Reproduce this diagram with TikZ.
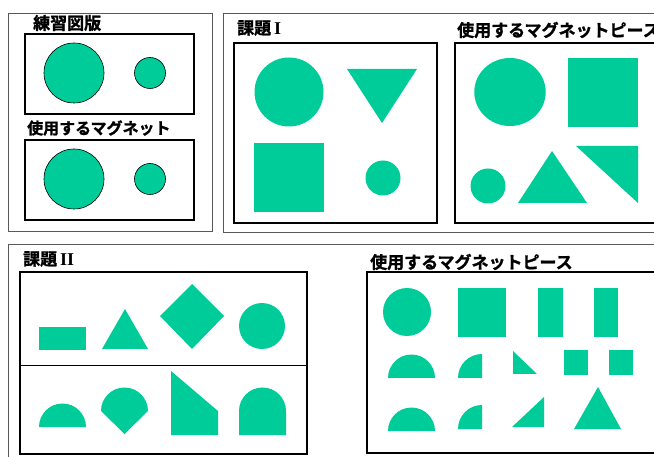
\documentclass[tikz,border=0pt]{standalone}
\usepackage{fontspec}
\setmainfont{Liberation Serif}
\newfontfamily\jpfont[FakeBold=1.2]{Noto Sans CJK JP Bold}
\definecolor{magnet}{RGB}{0,204,153}
\tikzset{
  piece/.style={fill=magnet},
  rim/.style={fill=magnet, draw=black, line width=0.6pt},
  board/.style={draw=black, line width=1.6pt},
  frame/.style={draw=black!65, line width=0.8pt},
  caption/.style={anchor=west, inner sep=0pt, font=\jpfont\fontsize{17}{17}\selectfont},
}
\begin{document}
\begin{tikzpicture}[x=1pt,y=1pt]
            \useasboundingbox (0,0) rectangle (654,-457);
            \clip (0,0) rectangle (654,-457);
            % 練習図版
            \draw[frame] (8,-13) rectangle (212,-231);
            \node[caption] (practice) at (33,-23) {練習図版};
            \draw[board] (25,-34) rectangle (194,-114);
            \filldraw[rim] (74,-73) circle (30);
            \filldraw[rim] (150,-73) circle (15.5);
            % 使用するマグネット
            \node[caption, font=\jpfont\fontsize{16}{16}\selectfont] (practiceuse) at (27,-128) {使用するマグネット};
            \draw[board] (25,-140) rectangle (194,-220);
            \filldraw[rim] (74,-179) circle (30);
            \filldraw[rim] (150,-179) circle (15.5);
            % 課題 I
            \draw[frame] (223,-13) rectangle (670,-232);
            \node[caption] (taskone) at (237,-28) {課題\,{\rmfamily\bfseries\fontsize{18}{18}\selectfont I}};
            \draw[board] (234,-43) rectangle (437,-223);
            \fill[piece] (289,-92) circle (34.5);
            \fill[piece] (347,-69) -- (417,-69) -- (382,-123) -- cycle;
            \fill[piece] (254,-143) rectangle (324,-212);
            \fill[piece] (383,-178) circle (17.5);
            % 課題 I のピース
            \node[caption] (taskonepieces) at (457,-30) {使用するマグネットピース};
            \draw[board] (455,-43) rectangle (670,-223);
            \fill[piece] (510,-92) ellipse [x radius=35.7, y radius=34];
            \fill[piece] (568,-58) rectangle (638,-127);
            \fill[piece] (488,-186) circle (17.5);
            \fill[piece] (518,-203) -- (587,-203) -- (552,-151) -- cycle;
            \fill[piece] (576,-146) -- (638,-146) -- (638,-203) -- cycle;
            % 課題 II
            \draw[frame] (8,-244) rectangle (670,-470);
            \node[caption] (tasktwo) at (23,-259) {課題\,{\rmfamily\bfseries\fontsize{18}{18}\selectfont II}};
            \draw[board] (20,-272) rectangle (307,-454);
            \draw[line width=0.8pt] (20,-365) -- (307,-365);
            % 上段
            \fill[piece] (39,-327) rectangle (86,-350);
            \fill[piece] (102,-349) -- (148,-349) -- (125,-309) -- cycle;
            \fill[piece] (160,-316) -- (192,-284) -- (224,-316) -- (192,-349) -- cycle;
            \fill[piece] (262,-326) circle (23);
            % 下段
            \fill[piece] (39,-427) arc (180:0:23.5) -- cycle;
            \fill[piece] (101,-411) arc (180:0:23.5) -- (124.5,-434) -- cycle;
            \fill[piece] (171,-371) -- (218,-411) -- (218,-435) -- (171,-435) -- cycle;
            \fill[piece] (239,-435) -- (239,-411) arc (180:0:23.5) -- (286,-435) -- cycle;
            % 課題 II のピース
            \node[caption] (tasktwopieces) at (370,-262) {使用するマグネットピース};
            \draw[board] (367,-272) rectangle (654.3,-453);
            \fill[piece] (407,-312) circle (24);
            \fill[piece] (458,-288) rectangle (506,-337);
            \fill[piece] (538,-288) rectangle (563,-337);
            \fill[piece] (594,-288) rectangle (618,-337);
            \fill[piece] (388,-378) arc (180:0:23.5) -- cycle;
            \fill[piece] (458,-378) arc (180:90:24) -- (482,-378) -- cycle;
            \fill[piece] (513,-351) -- (513,-374) -- (537,-374) -- cycle;
            \fill[piece] (564,-350) rectangle (588,-375);
            \fill[piece] (609,-350) rectangle (633,-375);
            \fill[piece] (388,-431) arc (180:0:23.5) -- cycle;
            \fill[piece] (458,-429) arc (180:90:24) -- (482,-429) -- cycle;
            \fill[piece] (512,-427) -- (544,-427) -- (544,-397) -- cycle;
            \fill[piece] (574,-429) -- (621,-429) -- (598,-387) -- cycle;
          \end{tikzpicture}
\end{document}
